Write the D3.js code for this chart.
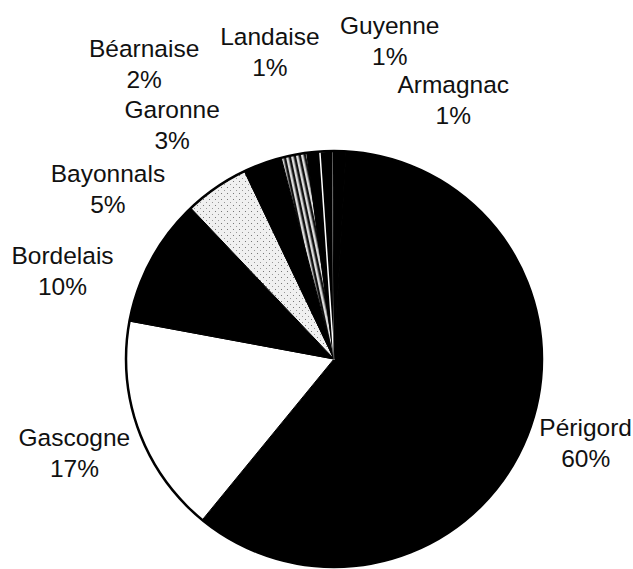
<!DOCTYPE html>
<html>
<head>
<meta charset="utf-8">
<script src="https://cdn.jsdelivr.net/npm/d3@7"></script>
<style>
  html, body { margin: 0; padding: 0; background: #fff; }
  svg { display: block; }
</style>
</head>
<body>
<div id="chart"></div>
<script>
// ---- data ----
const categories = ["Périgord", "Gascogne", "Bordelais", "Bayonnals", "Garonne", "Béarnaise", "Landaise", "Guyenne", "Armagnac"];
const values = [60, 17, 10, 5, 3, 2, 1, 1, 1];

// ---- styling / layout (separate from data) ----
const fills = ["#000", "#fff", "#000", "url(#dots)", "#000", "url(#hatch)", "#000", "#000", "#000"];
const strokes = ["#000", "#000", "#000", "#000", "#000", "#000", "#000", "#fff", "#000"];
// label placement: [angle in degrees clockwise from top, distance from centre]
const labelPlacement = [[110.1, 268], [248.5, 279], [286.4, 283], [305.6, 278], [324.4, 278], [326.5, 344], [347.9, 306], [10.2, 315], [25.4, 278]];

const W = 633, H = 569;
const cx = 334, cy = 359, R = 208;
const startDeg = 3.3;

const svg = d3.select("#chart").append("svg")
  .attr("width", W).attr("height", H)
  .style("background", "#fff");

const defs = svg.append("defs");
const dots = defs.append("pattern").attr("id", "dots")
  .attr("patternUnits", "userSpaceOnUse").attr("width", 6).attr("height", 6);
dots.append("rect").attr("width", 6).attr("height", 6).attr("fill", "#f0f0f0");
dots.append("rect").attr("x", 1).attr("y", 2).attr("width", 1).attr("height", 1).attr("fill", "#777");
dots.append("rect").attr("x", 4).attr("y", 5).attr("width", 1).attr("height", 1).attr("fill", "#999");

const hatch = defs.append("pattern").attr("id", "hatch")
  .attr("patternUnits", "userSpaceOnUse").attr("width", 5).attr("height", 5)
  .attr("patternTransform", "rotate(-12)");
hatch.append("rect").attr("width", 5).attr("height", 5).attr("fill", "#111");
hatch.append("rect").attr("x", 0).attr("width", 2.5).attr("height", 5).attr("fill", "#dcdcdc");

const g = svg.append("g").attr("transform", `translate(${cx},${cy})`);

const pie = d3.pie().sort(null)
  .startAngle(startDeg * Math.PI / 180)
  .endAngle((startDeg + 360) * Math.PI / 180);
const arcs = pie(values);
const arc = d3.arc().innerRadius(0).outerRadius(R);

g.selectAll("path.slice").data(arcs).join("path")
  .attr("class", "slice")
  .attr("d", arc)
  .attr("fill", (d, i) => fills[i])
  .attr("stroke", (d, i) => strokes[i])
  .attr("stroke-width", (d, i) => strokes[i] === "#fff" ? 1.5 : 1)
  .attr("stroke-linejoin", "round");

// outer outline
g.append("circle").attr("r", R).attr("fill", "none").attr("stroke", "#000").attr("stroke-width", 2.5);

// labels
const labels = svg.append("g")
  .attr("font-family", "'Liberation Sans', Arial, Helvetica, sans-serif")
  .attr("font-size", 24.5)
  .attr("fill", "#111")
  .attr("text-anchor", "middle");

categories.forEach((name, i) => {
  const [deg, dist] = labelPlacement[i];
  const a = deg * Math.PI / 180;
  const x = cx + dist * Math.sin(a);
  const y = cy - dist * Math.cos(a);
  const t = labels.append("text").attr("x", x).attr("y", y - 15);
  t.append("tspan").attr("x", x).text(name);
  t.append("tspan").attr("x", x).attr("dy", 31).text(values[i] + "%");
});
</script>
</body>
</html>
